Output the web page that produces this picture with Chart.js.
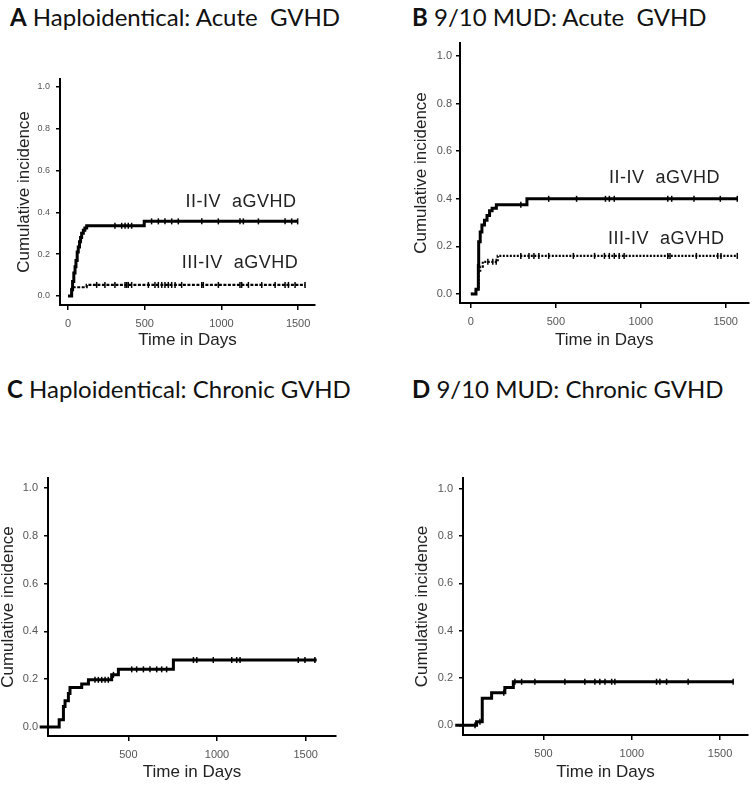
<!DOCTYPE html>
<html>
<head>
<meta charset="utf-8">
<script src="https://cdn.jsdelivr.net/npm/chart.js@4.4.0/dist/chart.umd.min.js"></script>
<style>
  body { margin: 0; background: #fff; }
  #fig { position: relative; width: 754px; height: 785px; background: #fff; overflow: hidden; }
  #fig canvas { position: absolute; }
  .ttl { position: absolute; font-family: Lato, "Liberation Sans", sans-serif; font-size: 24px; line-height: 1; color: #111; white-space: pre; }
  .ttl b { font-weight: 700; }
</style>
</head>
<body>
<div id="fig">
  <div class="ttl" style="left:10px;top:5px"><b>A</b> Haploidentical: Acute  GVHD</div>
  <div class="ttl" style="left:412px;top:5px"><b>B</b> 9/10 MUD: Acute  GVHD</div>
  <div class="ttl" style="left:7px;top:377px"><b>C</b> Haploidentical: Chronic GVHD</div>
  <div class="ttl" style="left:412px;top:377px"><b>D</b> 9/10 MUD: Chronic GVHD</div>
  <canvas id="chartA" width="377" height="320" style="left:0;top:40px"></canvas>
  <canvas id="chartB" width="377" height="330" style="left:377px;top:30px"></canvas>
  <canvas id="chartC" width="377" height="365" style="left:0;top:420px"></canvas>
  <canvas id="chartD" width="377" height="365" style="left:377px;top:420px"></canvas>
</div>
<script>
// --- data (days, cumulative incidence) ---
const xTicks = [0, 500, 1000, 1500];
const yTicks = [0, 0.2, 0.4, 0.6, 0.8, 1.0];

// A: haploidentical, acute GVHD
const haploII_days = [0, 22, 24, 30, 38, 46, 52, 60, 67, 75, 82, 89, 100, 110, 122, 497, 1497];
const haploII_ci   = [0, 0, 0.03, 0.07, 0.11, 0.14, 0.17, 0.21, 0.235, 0.26, 0.28, 0.30, 0.315, 0.325, 0.336, 0.357, 0.357];
const haploII_cens = [306, 350, 372, 393, 415, 545, 589, 632, 676, 719, 872, 980, 1121, 1143, 1241, 1415, 1458, 1497];
const haploIII_days = [0, 24, 122, 1545];
const haploIII_ci   = [0, 0.042, 0.053, 0.053];
const haploIII_cens = [187, 241, 306, 372, 383, 393, 415, 524, 567, 589, 611, 632, 654, 676, 698, 741, 872, 882, 980,
                       1121, 1132, 1176, 1263, 1350, 1415, 1437, 1480, 1545];

// B: 9/10 MUD, acute GVHD
const mudII_days = [0, 30, 42, 44, 46, 55, 65, 80, 95, 110, 125, 150, 330, 1568];
const mudII_ci   = [0, 0.02, 0.02, 0.12, 0.22, 0.26, 0.29, 0.31, 0.33, 0.35, 0.36, 0.375, 0.40, 0.40];
const mudII_cens = [294, 458, 622, 792, 815, 844, 1159, 1182, 1313, 1468, 1568];
const mudIII_days = [0, 30, 42, 46, 55, 70, 158, 1568];
const mudIII_ci   = [0, 0.02, 0.02, 0.09, 0.115, 0.135, 0.16, 0.16];
const mudIII_cens = [100, 129, 149, 294, 342, 371, 400, 458, 603, 728, 786, 815, 844, 873, 902, 1159, 1172, 1327, 1453, 1472, 1568];

// C: haploidentical, chronic GVHD
const haploC_days = [0, 96, 110, 134, 143, 162, 171, 237, 275, 406, 444, 754, 1562];
const haploC_ci   = [0, 0, 0.03, 0.085, 0.11, 0.14, 0.165, 0.18, 0.197, 0.218, 0.241, 0.28, 0.28];
const haploC_cens = [312, 331, 350, 369, 387, 416, 519, 547, 585, 622, 660, 688, 716, 867, 886, 979, 1083, 1111, 1130, 1458, 1496, 1552];

// D: 9/10 MUD, chronic GVHD
const mudC_days = [0, 121, 149, 153, 206, 281, 329, 1574];
const mudC_ci   = [0, 0.015, 0.015, 0.114, 0.138, 0.16, 0.184, 0.184];
const mudC_cens = [112, 140, 275, 338, 376, 451, 621, 734, 791, 819, 848, 886, 904, 1140, 1159, 1197, 1319, 1574];

// level of a step curve at time t
function levelAt(days, ci, t) {
    let v = 0;
    for (let i = 0; i < days.length; i++) {
        if (days[i] <= t) v = ci[i];
    }
    return v;
}

const curveLabels = {
    id: 'curveLabels',
    afterDatasetsDraw(chart, args, opts) {
        if (!opts.items) return;
        const ctx = chart.ctx;
        const x = chart.scales.x, y = chart.scales.y;
        ctx.save();
        ctx.font = '18px "Liberation Sans", Arial, sans-serif';
        ctx.letterSpacing = '0.5px';
        ctx.fillStyle = '#222';
        ctx.textAlign = 'center';
        ctx.textBaseline = 'alphabetic';
        opts.items.forEach(it => ctx.fillText(it.text, x.getPixelForValue(it.x), y.getPixelForValue(it.y)));
        ctx.restore();
    }
};

function makeChart(canvasId, curves, xMin, xMax, yMin, yMax, box, labels = []) {
    const ctx = document.getElementById(canvasId);
    const datasets = [];
    curves.forEach(c => {
        datasets.push({
            data: c.days.map((d, i) => ({x: d, y: c.ci[i]})),
            stepped: true,
            borderColor: '#000',
            borderWidth: c.width,
            borderDash: c.dash || [],
            pointRadius: 0,
            clip: false
        });
        datasets.push({
            data: c.cens.map(d => ({x: d, y: levelAt(c.days, c.ci, d)})),
            showLine: false,
            pointStyle: 'line',
            rotation: 90,
            pointRadius: 3,
            pointBorderWidth: 1.5,
            pointBorderColor: '#000',
            clip: false
        });
    });

    const axisFont = {family: '"Liberation Sans", Arial, sans-serif'};
    const keepTicks = list => scale => {
        scale.ticks = list.filter(v => v >= scale.min && v <= scale.max).map(v => ({value: v}));
    };

    new Chart(ctx, {
        type: 'line',
        data: {datasets: datasets},
        plugins: [curveLabels],
        options: {
            responsive: false,
            animation: false,
            layout: {padding: {left: 0, top: box.top, right: box.right, bottom: 0}},
            scales: {
                x: {
                    type: 'linear',
                    min: xMin,
                    max: xMax,
                    afterBuildTicks: keepTicks(xTicks),
                    border: {display: true, color: '#000', width: 2},
                    grid: {drawOnChartArea: false, drawTicks: true, tickLength: 5, color: '#000', lineWidth: 1.5},
                    ticks: {
                        maxRotation: 0,
                        autoSkip: false,
                        padding: 7,
                        color: '#555',
                        font: {...axisFont, size: 11},
                        callback: v => String(v)
                    },
                    title: {
                        display: true,
                        text: 'Time in Days',
                        color: '#222',
                        font: {...axisFont, size: 17, lineHeight: 1},
                        padding: {top: 0, bottom: box.xTitlePad}
                    },
                    afterFit: s => { s.height = box.xHeight; }
                },
                y: {
                    min: yMin,
                    max: yMax,
                    afterBuildTicks: keepTicks(yTicks),
                    border: {display: true, color: '#000', width: 2},
                    grid: {drawOnChartArea: false, drawTicks: true, tickLength: 4, color: '#000', lineWidth: 1.5},
                    ticks: {
                        autoSkip: false,
                        padding: box.yTickPad,
                        color: '#555',
                        font: {...axisFont, size: box.yTickSize},
                        callback: v => v.toFixed(1)
                    },
                    title: {
                        display: true,
                        text: 'Cumulative incidence',
                        color: '#222',
                        font: {...axisFont, size: 17, lineHeight: 1},
                        padding: {top: box.yTitlePad, bottom: 0}
                    },
                    afterFit: s => { s.width = box.yWidth; }
                }
            },
            plugins: {
                legend: {display: false},
                tooltip: {enabled: false},
                curveLabels: {items: labels}
            }
        }
    });
}

makeChart('chartA',
    [{days: haploII_days, ci: haploII_ci, cens: haploII_cens, width: 3},
     {days: haploIII_days, ci: haploIII_ci, cens: haploIII_cens, width: 2.2, dash: [3, 1.5]}],
    -52, 1610, -0.043, 1.038,
    {top: 39, right: 62, xHeight: 55, yWidth: 60, xTitlePad: 11, yTickPad: 6, yTitlePad: 16, yTickSize: 9},
    [{text: 'II-IV  aGVHD', x: 1128, y: 0.426}, {text: 'III-IV  aGVHD', x: 1121, y: 0.134}]);

makeChart('chartB',
    [{days: mudII_days, ci: mudII_ci, cens: mudII_cens, width: 3},
     {days: mudIII_days, ci: mudIII_ci, cens: mudIII_cens, width: 2.2, dash: [2, 1.5]}],
    -64, 1634, -0.038, 1.055,
    {top: 13, right: 1, xHeight: 57, yWidth: 83, xTitlePad: 11, yTickPad: 4, yTitlePad: 36, yTickSize: 11},
    [{text: 'II-IV  aGVHD', x: 1139, y: 0.465}, {text: 'III-IV  aGVHD', x: 1150, y: 0.209}]);

makeChart('chartC',
    [{days: haploC_days, ci: haploC_ci, cens: haploC_cens, width: 3}],
    47, 1671, -0.038, 1.042,
    {top: 58, right: 41, xHeight: 49, yWidth: 48, xTitlePad: 4, yTickPad: 6, yTitlePad: 0, yTickSize: 11});

makeChart('chartD',
    [{days: mudC_days, ci: mudC_ci, cens: mudC_cens, width: 3}],
    44, 1658, -0.041, 1.045,
    {top: 58, right: 6, xHeight: 50, yWidth: 86, xTitlePad: 4, yTickPad: 6, yTitlePad: 37, yTickSize: 11});
</script>
</body>
</html>
